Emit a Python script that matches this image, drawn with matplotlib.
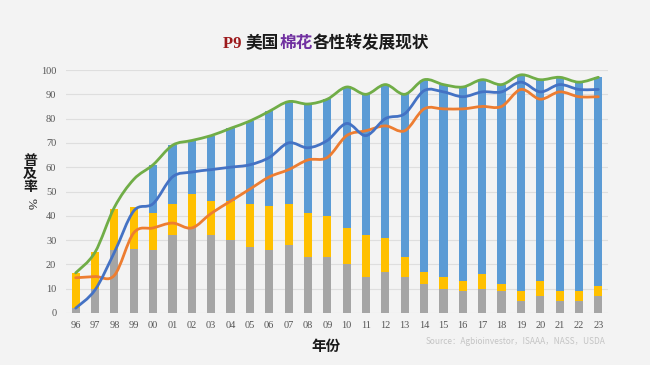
import matplotlib
matplotlib.use("Agg")
import matplotlib.pyplot as plt
import numpy as np
from matplotlib.path import Path
from matplotlib.patches import PathPatch
from matplotlib.offsetbox import TextArea, HPacker, AnchoredOffsetbox

# ---------------- data ----------------
years = ['96', '97', '98', '99', '00', '01', '02', '03', '04', '05', '06', '07', '08', '09',
         '10', '11', '12', '13', '14', '15', '16', '17', '18', '19', '20', '21', '22', '23']
ht_only = [2, 10, 26, 26.5, 26, 32, 35, 32, 30, 27, 26, 28, 23, 23,
           20, 15, 17, 15, 12, 10, 9, 10, 9, 5, 7, 5, 5, 7]
bt_only = [14.5, 15, 17, 17, 15, 13, 14, 14, 16, 18, 18, 17, 18, 17,
           15, 17, 14, 8, 5, 5, 4, 6, 3, 4, 6, 4, 4, 4]
stacked = [0, 0, 0, 0, 20, 24, 22, 27, 30, 34, 39, 42, 45, 48,
           58, 58, 63, 67, 79, 79, 80, 80, 82, 89, 83, 88, 86, 86]
all_ge = [16.5, 25, 43.5, 55, 61, 69, 71, 73, 76, 79, 83, 87, 86, 88,
          93, 90, 94, 90, 96, 94, 93, 96, 94, 98, 96, 97, 95, 97]
ht_total = [2, 9.5, 25, 42, 45, 56, 58, 59, 60, 61, 64, 70, 68, 71,
            78, 73, 80, 82, 91.5, 91, 89, 91, 91, 95, 91, 94, 92, 92]
bt_total = [14.5, 15, 15.5, 33, 35, 37, 35, 41, 46, 51, 56, 59, 63, 64,
            73, 75, 77, 75, 84, 84, 84, 85, 85, 92, 88, 91, 89, 89]
y_ticks = [0, 10, 20, 30, 40, 50, 60, 70, 80, 90, 100]

# ---------------- style ----------------
BG = '#f3f3f3'
C_GRAY = '#a5a5a5'
C_YEL = '#ffc000'
C_BLUEBAR = '#5b9bd5'
C_BLUE = '#4472c4'
C_ORANGE = '#ed7d31'
C_GREEN = '#70ad47'

fig = plt.figure(figsize=(6.5, 3.65), dpi=100)
fig.patch.set_facecolor(BG)
ax = fig.add_axes([66 / 650, 52 / 365, 542 / 650, 243 / 365])
ax.set_facecolor('none')

x = np.arange(len(years))
w = 0.42
ht_a = np.array(ht_only, float)
bt_a = np.array(bt_only, float)
st_a = np.array(stacked, float)
ax.bar(x, ht_a, w, color=C_GRAY, zorder=2)
ax.bar(x, bt_a, w, bottom=ht_a, color=C_YEL, zorder=2)
ax.bar(x, st_a, w, bottom=ht_a + bt_a, color=C_BLUEBAR, zorder=2)


def smooth_path(xs, ys):
    pts = np.column_stack([xs, ys]).astype(float)
    n = len(pts)
    verts = [pts[0]]
    codes = [Path.MOVETO]
    for i in range(n - 1):
        p0 = pts[i - 1] if i > 0 else pts[i]
        p1 = pts[i]
        p2 = pts[i + 1]
        p3 = pts[i + 2] if i + 2 < n else pts[i + 1]
        c1 = p1 + (p2 - p0) / 6.0
        c2 = p2 - (p3 - p1) / 6.0
        verts += [c1, c2, p2]
        codes += [Path.CURVE4] * 3
    return Path(verts, codes)


for series, col in [(bt_total, C_ORANGE), (ht_total, C_BLUE), (all_ge, C_GREEN)]:
    patch = PathPatch(smooth_path(x, series), facecolor='none', edgecolor=col,
                      lw=2.0, zorder=4, capstyle='round', joinstyle='round')
    patch.set_clip_on(False)
    ax.add_patch(patch)

ax.set_xlim(-0.5, len(years) - 0.5)
ax.set_ylim(0, 100)
ax.set_yticks(y_ticks)
ax.set_yticklabels([str(v) for v in y_ticks])
ax.set_xticks(x)
ax.set_xticklabels(years)
ax.grid(axis='y', color='#dedede', lw=0.8, zorder=0)
ax.set_axisbelow(True)
for s in ax.spines.values():
    s.set_visible(False)
ax.tick_params(axis='both', length=0, labelsize=7.5, labelcolor='#555555')
ax.tick_params(axis='y', pad=7)
ax.tick_params(axis='x', pad=6)
for lab in ax.get_xticklabels() + ax.get_yticklabels():
    lab.set_fontfamily('Liberation Serif')

# ---------------- title ----------------
parts = [("P9 ", '#9c1a1c', ['Liberation Serif', 'Noto Sans CJK SC']),
         ("美国", '#1a1a1a', ['Noto Sans CJK SC']),
         ("棉花", '#7030a0', ['Noto Sans CJK SC']),
         ("各性转发展现状", '#1a1a1a', ['Noto Sans CJK SC'])]
areas = [TextArea(t, textprops=dict(color=c, fontsize=12, fontweight='bold', family=f))
         for t, c, f in parts]
pack = HPacker(children=areas, align='baseline', pad=0, sep=0)
ab = AnchoredOffsetbox(loc='center', child=pack, pad=0, borderpad=0, frameon=False,
                       bbox_to_anchor=(326 / 650, 1 - 43 / 365),
                       bbox_transform=fig.transFigure)
fig.add_artist(ab)

# ---------------- axis labels ----------------
fig.text(30 / 650, 1 - 174 / 365, "普\n及\n率", ha='center', va='center', fontsize=10,
         fontweight='bold', family=['Noto Sans CJK SC'], color='#1a1a1a', linespacing=0.95)
fig.text(31 / 650, 1 - 204 / 365, "%", ha='center', va='center', fontsize=9.5,
         rotation=-90, family=['Liberation Serif'], color='#1a1a1a')
fig.text(326 / 650, 1 - 346 / 365, "年份", ha='center', va='center', fontsize=10.5,
         fontweight='bold', family=['Noto Sans CJK SC'], color='#1a1a1a')
fig.text(606 / 650, 1 - 342 / 365, "Source：Agbioinvestor，ISAAA，NASS，USDA",
         ha='right', va='center', fontsize=6.0, color='#c4c4c4',
         family=['Liberation Sans Narrow', 'Noto Sans CJK SC', 'DejaVu Sans'])

fig.savefig('out.png', dpi=100, facecolor=BG)
